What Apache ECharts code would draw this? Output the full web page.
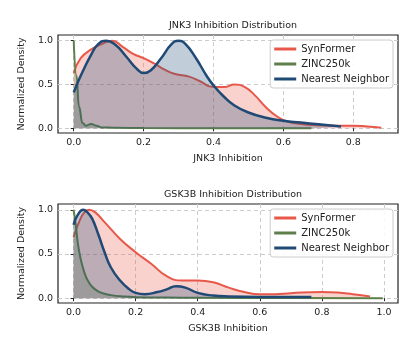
<!DOCTYPE html>
<html>
<head>
<meta charset="utf-8">
<script src="https://cdn.jsdelivr.net/npm/echarts@6/dist/echarts.min.js"></script>
<style>
  html, body { margin: 0; padding: 0; background: #fff; }
  #chart { width: 415px; height: 356px; }
</style>
</head>
<body>
<div id="chart"></div>
<script>
// [inhibition, normalized density] pairs
const jnk3SynFormer = [[0,0.63],[0.02,0.8],[0.05,0.9],[0.08,0.96],[0.11,1.0],[0.14,0.93],[0.17,0.85],[0.2,0.8],[0.23,0.74],[0.26,0.67],[0.29,0.62],[0.33,0.59],[0.36,0.54],[0.4,0.47],[0.43,0.47],[0.46,0.5],[0.49,0.47],[0.52,0.37],[0.55,0.24],[0.58,0.14],[0.61,0.08],[0.65,0.05],[0.7,0.035],[0.75,0.03],[0.8,0.03],[0.84,0.02],[0.88,0.005]];
const jnk3Zinc = [[0,1.0],[0.008,0.6],[0.015,0.25],[0.025,0.06],[0.035,0.03],[0.05,0.05],[0.065,0.03],[0.08,0.01],[0.12,0.005],[0.2,0.003],[0.4,0.0],[0.68,0.0]];
const jnk3Neighbor = [[0,0.41],[0.02,0.6],[0.05,0.84],[0.07,0.96],[0.093,1.0],[0.12,0.95],[0.15,0.82],[0.18,0.68],[0.2,0.63],[0.22,0.66],[0.25,0.8],[0.28,0.96],[0.3,1.0],[0.32,0.96],[0.35,0.8],[0.38,0.6],[0.4,0.49],[0.43,0.36],[0.46,0.26],[0.5,0.18],[0.55,0.12],[0.6,0.085],[0.65,0.065],[0.7,0.045],[0.765,0.02]];

const gsk3bSynFormer = [[0,0.69],[0.02,0.88],[0.035,0.97],[0.05,1.0],[0.07,0.97],[0.1,0.86],[0.15,0.67],[0.2,0.52],[0.25,0.39],[0.3,0.25],[0.35,0.2],[0.4,0.2],[0.45,0.18],[0.5,0.12],[0.55,0.07],[0.6,0.045],[0.65,0.045],[0.7,0.057],[0.8,0.07],[0.85,0.064],[0.9,0.045],[0.955,0.02]];
const gsk3bZinc = [[0,1.0],[0.007,0.84],[0.014,0.62],[0.022,0.46],[0.03,0.35],[0.038,0.26],[0.046,0.2],[0.06,0.13],[0.078,0.08],[0.1,0.05],[0.12,0.035],[0.16,0.02],[0.2,0.012],[0.3,0.007],[0.4,0.005],[0.7,0.003],[0.996,0.0]];
const gsk3bNeighbor = [[0,0.83],[0.015,0.95],[0.031,1.0],[0.045,0.97],[0.06,0.9],[0.08,0.72],[0.1,0.52],[0.12,0.35],[0.15,0.2],[0.18,0.1],[0.2,0.06],[0.23,0.045],[0.27,0.07],[0.3,0.1],[0.33,0.135],[0.36,0.12],[0.4,0.06],[0.45,0.03],[0.5,0.02],[0.6,0.015],[0.766,0.015]];

const jnk3Ticks = [0, 0.2, 0.4, 0.6, 0.8];
const gsk3bTicks = [0, 0.2, 0.4, 0.6, 0.8, 1.0];
const yTicks = [0, 0.5, 1.0];

const names = ['SynFormer', 'ZINC250k', 'Nearest Neighbor'];
const colors = ['#e8584a', '#5e7e4a', '#1f4a75'];
const font = 'DejaVu Sans';

const chart = echarts.init(document.getElementById('chart'));

const xAxisFor = (idx, min, max, ticks, name) => ({
  type: 'value',
  gridIndex: idx,
  min: min,
  max: max,
  name: name,
  nameLocation: 'middle',
  nameGap: 21,
  nameTextStyle: { color: '#222', fontSize: 9.5, fontFamily: font },
  axisLine: { show: false },
  axisTick: { show: true, inside: false, length: 3, customValues: ticks, lineStyle: { color: '#222' } },
  axisLabel: { customValues: ticks, color: '#222', fontSize: 9.5, fontFamily: font, margin: 5,
    formatter: v => v.toFixed(1) },
  splitLine: { show: true, lineStyle: { color: '#cccccc', type: [4, 3], width: 1 } }
});

const yAxisFor = idx => ({
  type: 'value',
  gridIndex: idx,
  min: -0.054,
  max: 1.065,
  name: 'Normalized Density',
  nameLocation: 'middle',
  nameRotate: 90,
  nameGap: 30,
  nameTextStyle: { color: '#222', fontSize: 9.5, fontFamily: font },
  axisLine: { show: false },
  axisTick: { show: true, inside: false, length: 3, customValues: yTicks, lineStyle: { color: '#222' } },
  axisLabel: { customValues: yTicks, color: '#222', fontSize: 9.5, fontFamily: font, margin: 5,
    formatter: v => v.toFixed(1) },
  splitLine: { show: true, lineStyle: { color: '#cccccc', type: [4, 3], width: 1 } }
});

const curve = (idx, i, data, width, steep) => ({
  name: names[i],
  type: 'line',
  xAxisIndex: idx,
  yAxisIndex: idx,
  data: data,
  smooth: true,
  smoothMonotone: steep ? 'x' : undefined,
  showSymbol: false,
  lineStyle: { color: colors[i], width: width },
  itemStyle: { color: colors[i] },
  areaStyle: { color: colors[i], opacity: 0.28 },
  z: 2 + i
});

const legendFor = top => ({
  top: top,
  right: 22,
  orient: 'vertical',
  itemWidth: 22,
  itemHeight: 3,
  itemGap: 5,
  icon: 'rect',
  padding: [4, 4, 4, 4],
  backgroundColor: 'rgba(255,255,255,0.85)',
  borderColor: '#cccccc',
  borderWidth: 1,
  borderRadius: 3,
  textStyle: { color: '#222', fontSize: 10, fontFamily: font },
  data: names
});

const option = {
  animation: false,
  backgroundColor: '#fff',
  title: [
    { text: 'JNK3 Inhibition Distribution', left: 228, top: 16, textAlign: 'center',
      textStyle: { fontSize: 9.5, fontWeight: 'normal', color: '#222', fontFamily: font } },
    { text: 'GSK3B Inhibition Distribution', left: 228, top: 185, textAlign: 'center',
      textStyle: { fontSize: 9.5, fontWeight: 'normal', color: '#222', fontFamily: font } }
  ],
  legend: [legendFor(40), legendFor(209)],
  grid: [
    { left: 58, top: 35, width: 340, height: 98, show: true, borderColor: '#222', borderWidth: 1.2, backgroundColor: 'transparent' },
    { left: 58, top: 204, width: 340, height: 99, show: true, borderColor: '#222', borderWidth: 1.2, backgroundColor: 'transparent' }
  ],
  xAxis: [
    xAxisFor(0, -0.045, 0.928, jnk3Ticks, 'JNK3 Inhibition'),
    xAxisFor(1, -0.05, 1.045, gsk3bTicks, 'GSK3B Inhibition')
  ],
  yAxis: [yAxisFor(0), yAxisFor(1)],
  series: [
    curve(0, 0, jnk3SynFormer, 2, false),
    curve(0, 1, jnk3Zinc, 2, true),
    curve(0, 2, jnk3Neighbor, 2.5, false),
    curve(1, 0, gsk3bSynFormer, 2, false),
    curve(1, 1, gsk3bZinc, 2, false),
    curve(1, 2, gsk3bNeighbor, 2.5, false)
  ]
};

chart.setOption(option);
</script>
</body>
</html>
